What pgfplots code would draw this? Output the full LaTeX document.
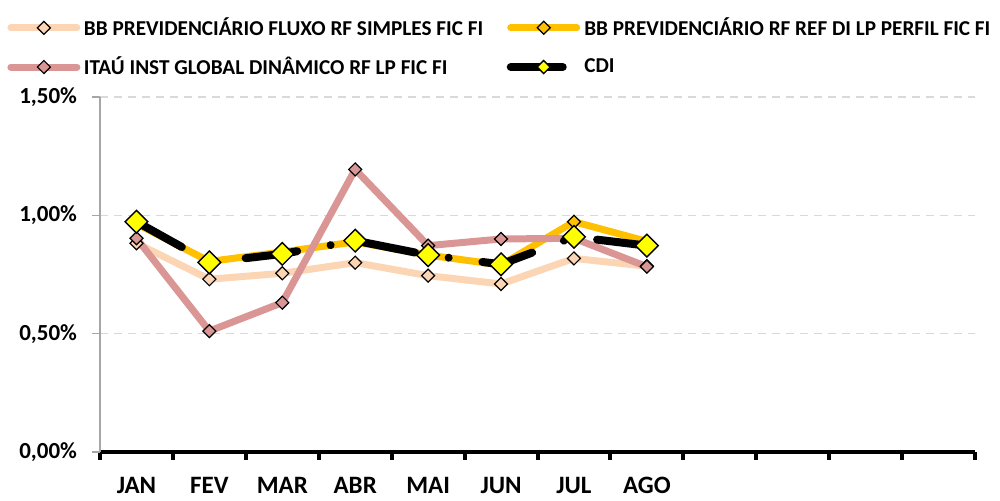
\documentclass[border=0pt]{standalone}
\usepackage{fontspec}
\setmainfont{Carlito}
\usepackage{pgfplots}
\pgfplotsset{compat=1.18}
\definecolor{fluxo}{RGB}{252,213,181}
\definecolor{perfil}{RGB}{255,192,0}
\definecolor{itau}{RGB}{217,150,148}
\definecolor{cdiyel}{RGB}{255,255,0}
\definecolor{gridgray}{RGB}{217,217,217}
\definecolor{axgray}{RGB}{166,166,166}
\begin{document}
\begin{tikzpicture}
\path (-50pt,-22pt) rectangle (450pt,226pt);
\begin{axis}[
  at={(0,0)}, anchor=south west,
  scale only axis, width=437.5pt, height=177.5pt,
  xmin=0.5, xmax=12.5, ymin=0, ymax=1.5,
  axis x line*=bottom, axis y line*=left,
  x axis line style={black, line width=2pt, -},
  y axis line style={axgray, line width=0.75pt, -},
  xtick={1,...,8},
  xticklabels={JAN,FEV,MAR,ABR,MAI,JUN,JUL,AGO},
  minor xtick={0.5,1.5,...,12.5},
  ytick={0,0.5,1,1.5},
  yticklabels={{0,00\%},{0,50\%},{1,00\%},{1,50\%}},
  /pgf/number format/assume math mode=true,
  tick align=outside,
  major tick length=4pt, minor tick length=4pt,
  major x tick style={draw=none},
  minor x tick style={black, line width=2pt},
  major y tick style={axgray, line width=0.75pt},
  ymajorgrids,
  major y grid style={gridgray, dash pattern=on 4pt off 3pt, line width=0.8pt},
  xticklabel style={font=\bfseries\fontsize{12.5}{14}\selectfont, yshift=-5pt},
  yticklabel style={font=\bfseries\fontsize{11.5}{13}\selectfont, xshift=-4pt},
  legend columns=2,
  legend style={at={(-0.1063,1.2366)}, anchor=north west, draw=none, fill=none,
    inner sep=0pt, font=\bfseries\fontsize{10.6}{12}\selectfont,
    nodes={inner xsep=1.8pt},
    /tikz/every even column/.append style={column sep=10pt},
    row sep=5.2pt},
  legend cell align=left,
  every axis plot post/.append style={
    legend image code/.code={\draw[#1, line cap=round, mark repeat=2, mark phase=2, mark size=2.3pt]
     plot coordinates {(0pt,0pt) (16.5pt,0pt) (33pt,0pt)};}},
]
\addplot[fluxo, line width=3.5pt, mark=square*, mark size=2.3pt,
  mark options={rotate=45, fill=fluxo, draw=black, line width=0.6pt, solid}]
  coordinates {(1,0.882) (2,0.730) (3,0.755) (4,0.800) (5,0.745) (6,0.710) (7,0.818) (8,0.785)};
\addlegendentry{BB PREVIDENCIÁRIO FLUXO RF SIMPLES FIC FI}
\addplot[perfil, line width=3.5pt, mark=square*, mark size=2.3pt,
  mark options={rotate=45, fill=perfil, draw=black, line width=0.6pt, solid}]
  coordinates {(1,0.965) (2,0.805) (3,0.845) (4,0.888) (5,0.832) (6,0.790) (7,0.973) (8,0.890)};
\addlegendentry{BB PREVIDENCIÁRIO RF REF DI LP PERFIL FIC FI}
\addplot[itau, line width=3.5pt, mark=square*, mark size=2.3pt,
  mark options={rotate=45, fill=itau, draw=black, line width=0.6pt, solid}]
  coordinates {(1,0.903) (2,0.511) (3,0.631) (4,1.194) (5,0.872) (6,0.900) (7,0.903) (8,0.783)};
\addlegendentry{ITAÚ INST GLOBAL DINÂMICO RF LP FIC FI}
\addplot[black, line width=4pt, line cap=round, dash pattern=on 26pt off 17pt on 0.01pt off 17pt,
  mark=square*, mark size=4pt,
  mark options={rotate=45, fill=cdiyel, draw=black, line width=0.7pt, solid}]
  coordinates {(1,0.973) (2,0.801) (3,0.837) (4,0.893) (5,0.832) (6,0.793) (7,0.909) (8,0.872)};
\addlegendentry{CDI}
\end{axis}
\end{tikzpicture}
\end{document}
